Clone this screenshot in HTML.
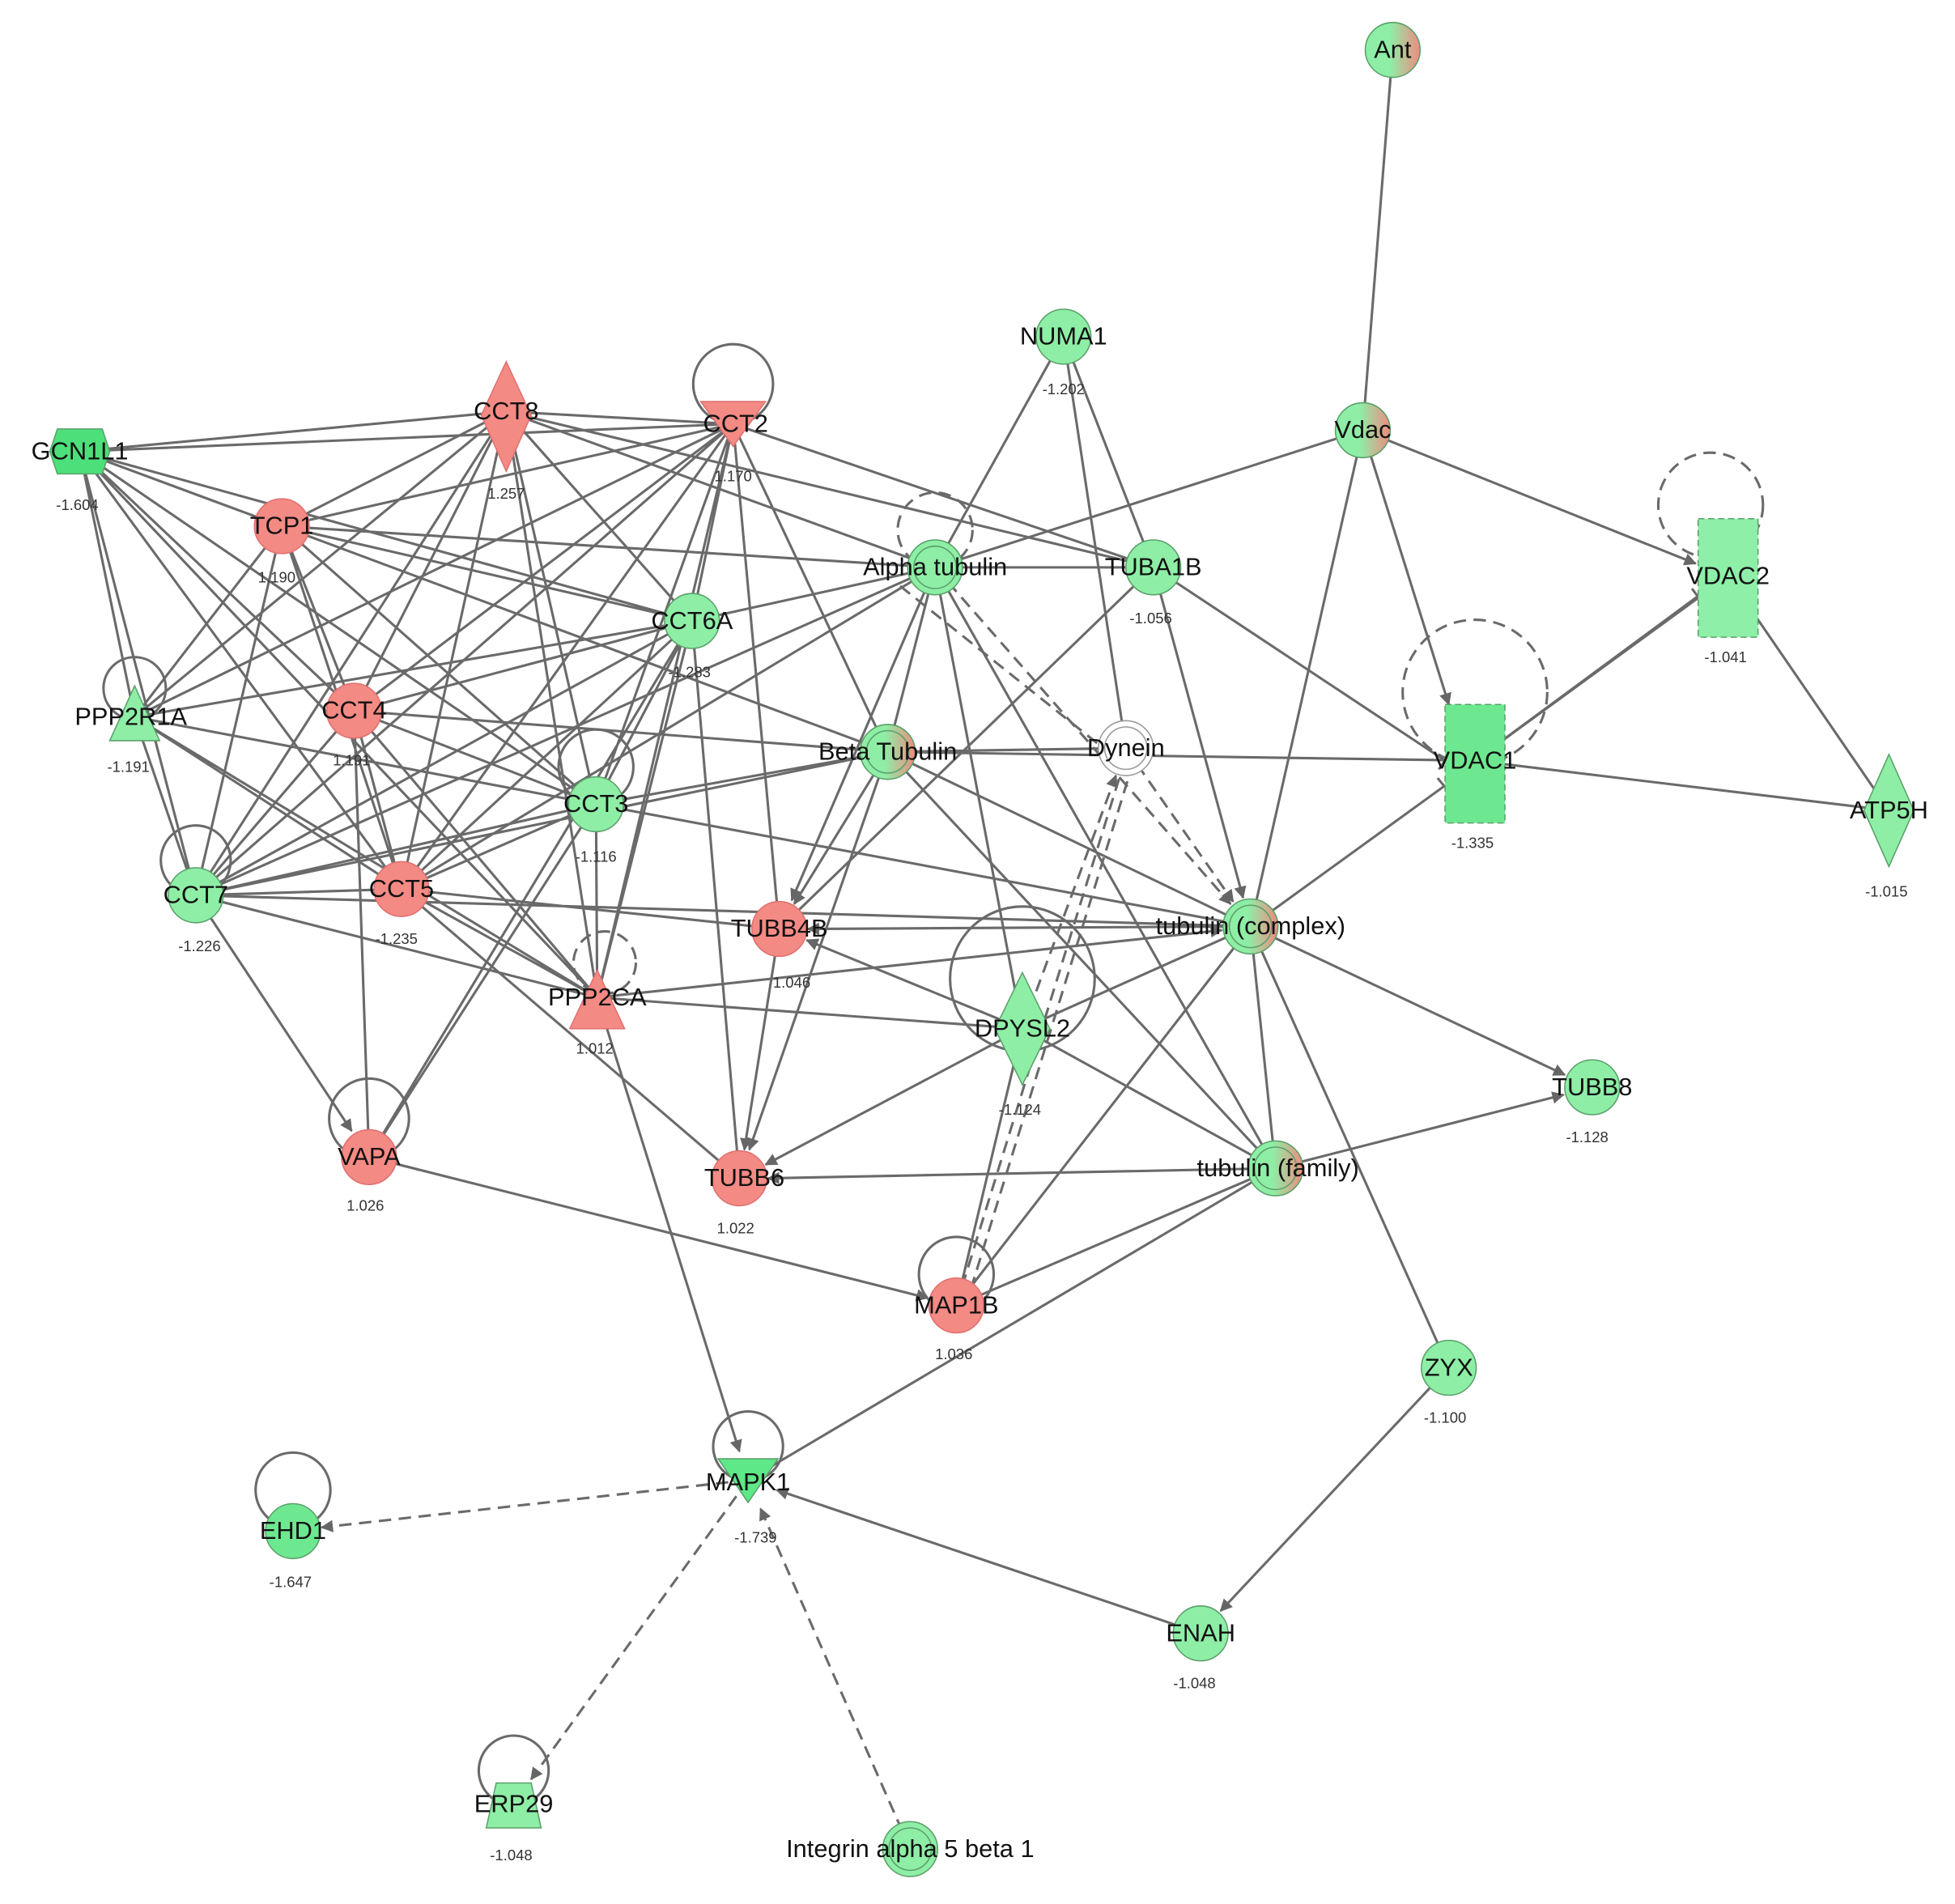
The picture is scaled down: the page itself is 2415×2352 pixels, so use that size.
<!DOCTYPE html>
<html><head><meta charset="utf-8"><style>
html,body{margin:0;padding:0;background:#fff;}
svg{display:block;}
text{font-family:"Liberation Sans",sans-serif;fill:#111;}
.l{font-size:20px;text-anchor:middle;dominant-baseline:middle;}
.v{font-size:12px;text-anchor:middle;fill:#333;}
</style></head><body>
<svg width="2415" height="2352" viewBox="0 0 1568 1527" xmlns="http://www.w3.org/2000/svg">
<defs>
<marker id="a" viewBox="0 0 10 10" refX="9" refY="5" markerWidth="5" markerHeight="5" orient="auto"><path d="M0,0L10,5L0,10z" fill="#666"/></marker>
<marker id="b" viewBox="0 0 10 10" refX="1" refY="5" markerWidth="5" markerHeight="5" orient="auto"><path d="M10,0L0,5L10,10z" fill="#666"/></marker>
<linearGradient id="gr" x1="0" x2="1" y1="0" y2="0"><stop offset="0.45" stop-color="#8eeea6"/><stop offset="1" stop-color="#f08a80"/></linearGradient>
</defs>
<g stroke="#6a6a6a" stroke-width="2" fill="none">
<path d="M1117,40L1093,345 M1093,345L750,455 M1093,345L1003,743
M853,270L750,455 M853,270L925,455 M853,270L903,600
M64,362L406,330 M64,362L588,340 M64,362L226,422 M64,362L555,498 M64,362L478,645 M64,362L284,570 M64,362L322,713 M64,362L157,718 M64,362L108,575 M64,362L479,800
M406,330L588,340 M406,330L226,422 M406,330L555,498 M406,330L284,570 M406,330L478,645 M406,330L322,713 M406,330L157,718 M406,330L108,575 M406,330L750,455 M406,330L925,455 M406,330L479,800
M588,340L226,422 M588,340L555,498 M588,340L478,645 M588,340L284,570 M588,340L322,713 M588,340L157,718 M588,340L108,575 M588,340L925,455 M588,340L712,603 M588,340L479,800 M588,340L625,745
M226,422L555,498 M226,422L284,570 M226,422L478,645 M226,422L322,713 M226,422L157,718 M226,422L108,575 M226,422L750,455 M226,422L712,603
M555,498L284,570 M555,498L478,645 M555,498L322,713 M555,498L157,718 M555,498L108,575 M555,498L750,455 M555,498L593,945 M555,498L479,800
M284,570L478,645 M284,570L322,713 M284,570L157,718 M284,570L296,928 M284,570L712,603 M284,570L479,800
M478,645L322,713 M478,645L157,718 M478,645L712,603 M478,645L1003,743 M478,645L479,800
M157,718L322,713 M157,718L108,575 M157,718L750,455 M157,718L712,603 M157,718L479,800 M157,718L1003,743
M322,713L479,800 M322,713L625,745 M322,713L593,945 M322,713L750,455
M108,575L322,713 M108,575L479,800 M108,575L478,645
M479,800L820,825 M296,928L478,645 M296,928L555,498
M750,455L925,455 M750,455L712,603 M750,455L820,825 M750,455L1023,937
M712,603L903,600 M712,603L1183,610 M712,603L1003,743 M712,603L1023,937
M925,455L625,745 M820,825L1003,743 M820,825L1023,937
M1003,743L1162,1097 M1003,743L1023,937 M1003,743L767,1047 M1023,937L600,1187
M1023,937L767,1047 M1183,610L1386,462 M1183,610L1515,650 M1386,462L1515,650 M322,713L593,945 M820,825L767,1047"/>
<path d="M925,455L1159,610 M1164,603L1154,617 M1003,743L1159,630 M1153,624L1163,636 M1183,610L1362,478 M1357,472L1366,484"/>
<g marker-end="url(#a)">
<path d="M1093,345L1360,452"/><path d="M1093,345L1162,565"/><path d="M157,718L282,907"/>
<path d="M479,800L980,746"/><path d="M479,800L593,1164"/><path d="M296,928L744,1041"/>
<path d="M750,455L635,722"/><path d="M712,603L637,725"/><path d="M712,603L601,922"/>
<path d="M820,825L614,934"/><path d="M1003,743L648,745"/><path d="M1003,743L1255,862"/>
<path d="M1023,937L616,945"/><path d="M1023,937L1254,878"/><path d="M1162,1097L979,1292"/>
<path d="M963,1310L623,1195"/><path d="M625,745L597,922"/>
<path d="M925,455L997,720" marker-start="url(#b)"/><path d="M820,825L647,754" marker-start="url(#b)"/>
</g>
<g stroke-dasharray="10,6" marker-end="url(#a)">
<path d="M750,455L987,725"/><path d="M903,600L989,723" marker-start="url(#b)"/>
<path d="M820,825L895,622"/><path d="M600,1187L258,1225"/><path d="M600,1187L426,1427"/><path d="M730,1483L610,1210"/>
</g>
<path stroke-dasharray="10,6" d="M767,1047L898,623 M774,1049L905,624 M722,470L910,620"/>
<circle cx="588" cy="308" r="32"/><circle cx="108" cy="552" r="25"/><circle cx="478" cy="615" r="30"/>
<circle cx="157" cy="690" r="28"/><circle cx="820" cy="785" r="58"/><circle cx="296" cy="897" r="32"/>
<circle cx="767" cy="1022" r="30"/><circle cx="600" cy="1160" r="28"/><circle cx="235" cy="1195" r="30"/><circle cx="412" cy="1420" r="28"/>
<g stroke-dasharray="10,6"><circle cx="750" cy="425" r="30"/><circle cx="485" cy="772" r="25"/><circle cx="1372" cy="405" r="42"/><circle cx="1183" cy="555" r="58"/></g>
</g>
<g stroke="#5aa06a" stroke-width="1">
<circle cx="1117" cy="40" r="22" fill="url(#gr)"/>
<circle cx="853" cy="270" r="22" fill="#8eeea6"/>
<circle cx="1093" cy="345" r="22" fill="url(#gr)"/>
<path d="M46,344H82L88,362L82,380H46L40,362Z" fill="#4de07a"/>
<path d="M406,290L426,333L406,378L386,333Z" fill="#f48a84" stroke="#e07070"/>
<path d="M562,322H614L588,358Z" fill="#f48a84" stroke="#e07070"/>
<circle cx="226" cy="422" r="22" fill="#f48a84" stroke="#e07070"/>
<circle cx="750" cy="455" r="22" fill="#8eeea6"/><circle cx="750" cy="455" r="17" fill="none"/>
<circle cx="925" cy="455" r="22" fill="#8eeea6"/>
<rect x="1362" y="416" width="48" height="95" fill="#8ef0a8" stroke-dasharray="5,3"/>
<circle cx="555" cy="498" r="22" fill="#8eeea6"/>
<path d="M108,550L128,594H88Z" fill="#8eeea6"/>
<circle cx="284" cy="570" r="22" fill="#f48a84" stroke="#e07070"/>
<circle cx="712" cy="603" r="22" fill="url(#gr)"/><circle cx="712" cy="603" r="17" fill="none"/>
<circle cx="903" cy="600" r="22" fill="#fff" stroke="#999"/><circle cx="903" cy="600" r="17" fill="none" stroke="#999"/>
<rect x="1159" y="565" width="48" height="95" fill="#6ee890" stroke-dasharray="5,3"/>
<circle cx="478" cy="645" r="22" fill="#8eeea6"/>
<path d="M1515,605L1535,650L1515,695L1495,650Z" fill="#8eeea6"/>
<circle cx="157" cy="718" r="22" fill="#8eeea6"/>
<circle cx="322" cy="713" r="22" fill="#f48a84" stroke="#e07070"/>
<circle cx="625" cy="745" r="22" fill="#f48a84" stroke="#e07070"/>
<circle cx="1003" cy="743" r="22" fill="url(#gr)"/><circle cx="1003" cy="743" r="17" fill="none"/>
<path d="M479,778L501,825H457Z" fill="#f48a84" stroke="#e07070"/>
<path d="M820,780L842,825L820,870L798,825Z" fill="#8eeea6"/>
<circle cx="1277" cy="872" r="22" fill="#8eeea6"/>
<circle cx="296" cy="928" r="22" fill="#f48a84" stroke="#e07070"/>
<circle cx="593" cy="945" r="22" fill="#f48a84" stroke="#e07070"/>
<circle cx="1023" cy="937" r="22" fill="url(#gr)"/><circle cx="1023" cy="937" r="17" fill="none"/>
<circle cx="767" cy="1047" r="22" fill="#f48a84" stroke="#e07070"/>
<circle cx="1162" cy="1097" r="22" fill="#8eeea6"/>
<path d="M576,1170H624L600,1205Z" fill="#5ee888"/>
<circle cx="235" cy="1228" r="22" fill="#6ee890"/>
<circle cx="963" cy="1310" r="22" fill="#8eeea6"/>
<path d="M398,1430H426L434,1466H390Z" fill="#8eeea6"/>
<circle cx="730" cy="1483" r="22" fill="#8eeea6"/><circle cx="730" cy="1483" r="17" fill="none"/>
</g>
<text class="l" x="1117" y="41">Ant</text>
<text class="l" x="853" y="271">NUMA1</text><text class="v" x="853" y="316">-1.202</text>
<text class="l" x="1093" y="346">Vdac</text>
<text class="l" x="64" y="363">GCN1L1</text><text class="v" x="62" y="409">-1.604</text>
<text class="l" x="406" y="331">CCT8</text><text class="v" x="406" y="400">1.257</text>
<text class="l" x="590" y="341">CCT2</text><text class="v" x="588" y="386">1.170</text>
<text class="l" x="226" y="423">TCP1</text><text class="v" x="222" y="467">1.190</text>
<text class="l" x="750" y="456">Alpha tubulin</text>
<text class="l" x="925" y="456">TUBA1B</text><text class="v" x="923" y="500">-1.056</text>
<text class="l" x="1386" y="463">VDAC2</text><text class="v" x="1384" y="531">-1.041</text>
<text class="l" x="555" y="499">CCT6A</text><text class="v" x="553" y="543">-1.283</text>
<text class="l" x="105" y="576">PPP2R1A</text><text class="v" x="103" y="619">-1.191</text>
<text class="l" x="284" y="571">CCT4</text><text class="v" x="282" y="614">1.191</text>
<text class="l" x="712" y="604">Beta Tubulin</text>
<text class="l" x="903" y="601">Dynein</text>
<text class="l" x="1183" y="611">VDAC1</text><text class="v" x="1181" y="680">-1.335</text>
<text class="l" x="478" y="646">CCT3</text><text class="v" x="478" y="691">-1.116</text>
<text class="l" x="1515" y="651">ATP5H</text><text class="v" x="1513" y="719">-1.015</text>
<text class="l" x="157" y="719">CCT7</text><text class="v" x="160" y="763">-1.226</text>
<text class="l" x="322" y="714">CCT5</text><text class="v" x="318" y="757">-1.235</text>
<text class="l" x="625" y="746">TUBB4B</text><text class="v" x="635" y="792">1.046</text>
<text class="l" x="1003" y="744">tubulin (complex)</text>
<text class="l" x="479" y="801">PPP2CA</text><text class="v" x="477" y="845">1.012</text>
<text class="l" x="820" y="826">DPYSL2</text><text class="v" x="818" y="894">-1.124</text>
<text class="l" x="1277" y="873">TUBB8</text><text class="v" x="1273" y="916">-1.128</text>
<text class="l" x="296" y="929">VAPA</text><text class="v" x="293" y="971">1.026</text>
<text class="l" x="597" y="946">TUBB6</text><text class="v" x="590" y="989">1.022</text>
<text class="l" x="1025" y="938">tubulin (family)</text>
<text class="l" x="767" y="1048">MAP1B</text><text class="v" x="765" y="1090">1.036</text>
<text class="l" x="1162" y="1098">ZYX</text><text class="v" x="1159" y="1141">-1.100</text>
<text class="l" x="600" y="1190">MAPK1</text><text class="v" x="606" y="1237">-1.739</text>
<text class="l" x="235" y="1229">EHD1</text><text class="v" x="233" y="1273">-1.647</text>
<text class="l" x="963" y="1311">ENAH</text><text class="v" x="958" y="1354">-1.048</text>
<text class="l" x="412" y="1448">ERP29</text><text class="v" x="410" y="1492">-1.048</text>
<text class="l" x="730" y="1484">Integrin alpha 5 beta 1</text>
</svg>
</body></html>
